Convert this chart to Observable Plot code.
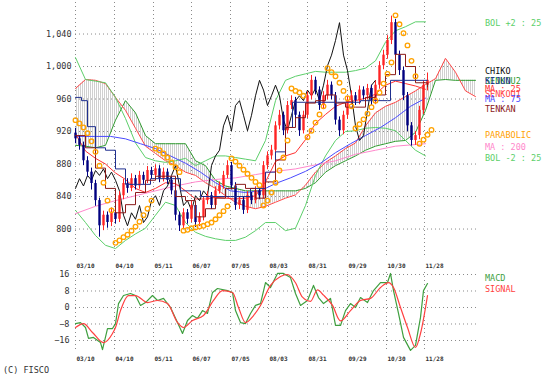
<!DOCTYPE html>
<html><head><meta charset="utf-8">
<script src="https://cdn.jsdelivr.net/npm/d3@7"></script>
<script src="https://cdn.jsdelivr.net/npm/@observablehq/plot@0.6"></script>
<style>
body{margin:0;background:#fff;}
#wrap{position:relative;width:555px;height:386px;overflow:hidden;background:#fff;}
#wrap svg{position:absolute;left:0;}
</style></head><body><div id="wrap"></div>
<script>
// ---------- DATA ----------
const tickDays   = [0, 19.5, 39, 58, 77.5, 96.5, 116, 136, 155.5, 174.5];
const tickLabels = ["03/10","04/10","05/11","06/07","07/05","08/03","08/31","09/29","10/30","11/28"];
const priceTicks = [800, 840, 880, 920, 960, 1000, 1040];
const macdTicks  = [-16, -8, 0, 8, 16];

// candles, one every 2 trading days
const open  = [918,911,903,884,870,856,835,804,817,808,820,812,841,856,850,862,853,866,860,872,866,874,862,870,860,847,817,804,820,812,829,808,815,835,841,829,847,853,866,878,853,829,835,823,841,835,847,841,878,890,897,927,940,921,952,958,940,921,940,964,983,971,952,964,977,964,934,921,940,958,964,958,971,964,973,958,977,1001,1014,1032,1054,1014,995,964,927,909,915,946,977];
const close = [911,903,884,870,856,835,804,817,808,820,812,841,856,850,862,853,866,860,872,866,874,862,870,860,847,817,804,820,812,829,808,815,835,841,829,847,853,866,878,853,829,835,823,841,835,847,841,878,890,897,927,940,921,952,958,940,921,940,964,983,971,952,964,977,964,934,921,940,958,964,958,971,964,973,958,977,1001,1014,1032,1054,1014,995,964,927,909,915,946,977,983];
const high  = [924,915,907,889,875,860,838,822,821,826,825,846,861,862,868,866,871,870,877,876,879,878,875,874,864,851,821,825,824,834,833,820,840,846,845,852,858,871,884,882,857,840,839,846,845,852,851,883,895,903,932,946,944,957,964,962,944,945,969,989,987,975,969,983,981,968,938,945,963,970,968,976,975,978,977,982,1006,1020,1038,1062,1058,1019,999,968,931,920,951,982,992];
const low   = [905,897,878,864,848,828,790,798,801,803,806,808,836,844,846,848,849,855,856,861,861,857,858,855,842,810,797,800,806,808,802,803,810,830,824,825,843,849,862,848,823,824,818,819,830,831,836,837,873,885,893,922,915,917,947,934,914,917,936,959,965,946,947,959,959,928,914,916,935,953,952,953,959,959,952,953,972,996,1009,1027,1008,989,958,920,902,903,910,941,970];

// Ichimoku cloud, every 5 days (incl. 26-day lead)
const cloudDays = [0,5,10,15,20,25,30,35,40,45,50,55,60,65,70,75,80,85,90,95,100,105,110,115,120,125,130,135,140,145,150,155,160,165,170,175,180,185,190,195,200];
const senkou1 = [973,984,983,979,962,946,924,902,893,884,878,870,866,857,850,841,833,828,825,828,833,838,842,854,870,882,890,899,906,927,943,951,956,963,970,978,985,1010,993,970,963];
const senkou2 = [903,902,900,903,934,958,943,915,905,905,905,905,884,878,860,853,850,847,847,847,847,847,847,850,857,870,878,884,890,897,902,905,908,909,919,946,983,984,983,983,983];

// Bollinger (25) and MA 25, every 5 days
const bandDays = [0,5,10,15,20,25,30,35,40,45,50,55,60,65,70,75,80,85,90,95,100,105,110,115,120,125,130,135,140,145,150,155,160,165,170,175];
const bolUpper = [1011,984,982,980,962,936,906,888,884,882,884,887,878,884,890,890,888,886,884,909,958,983,988,991,994,993,993,993,995,998,1007,1030,1044,1049,1055,1055];
const bolLower = [823,808,792,780,776,786,794,801,817,833,829,808,796,791,788,786,786,790,798,808,808,798,801,829,866,890,909,920,921,924,925,924,921,909,897,890];
const ma25     = [917,896,887,880,869,861,850,845,850,857,856,847,837,837,839,838,837,838,841,858,883,890,894,910,930,941,951,956,958,961,966,977,982,979,976,972];

const ma200Days = [0,10,20,30,40,50,60,70,80,90,100,110,120,130,140,150,160,170,175];
const ma200     = [819,828,835,841,847,853,858,861,863,867,871,874,879,884,892,897,902,904,905];

const ma75Days = [0,10,17.5,25,32.5,40,47.5,55,62.5,70,77.5,85,92.5,100,107.5,115,122.5,130,137.5,145,152.5,160,167.5,175];
const ma75     = [914,914,914,911,905,899,890,881,870,857,847,845,847,856,863,871,881,894,905,915,925,937,951,961];

const kijunDays = [0,3,6,10,15,20,25,32.5,37.5,47.5,52.5,62.5,77.5,87.5,95,100,105,108.5,131,142.5,156,157.5,176];
const kijun     = [962,958,926,900,897,874,855,855,862,862,847,840,840,850,870,895,925,956,956,958,958,983,983];

const tenkanDays = [0,5,10,15,20,25,30,35,40,45,50,55,60,65,70,75,80,85,90,95,100,105,110,115,120,125,130,135,140,145,150,155,160,165,170,176];
const tenkan     = [915,900,875,850,820,830,845,860,865,865,840,835,815,825,838,850,855,850,838,858,885,925,937,955,958,965,955,950,950,962,965,990,1015,1000,980,975];

// Parabolic SAR, every 2 days
const sar = [934,930,925,918,908,895,878,857,835,823, 783,786,790,793,798,803,809,817,825,835, 899,897,893,888,882,876,870, 798,799,801,802,803,804,806,808,812,817,822,828, 887,883,878,873,868,863,858,854, 829,835,845,857,872,888,909, 973,970,968,964, 913,921,931,941,951, 998,993,988,980,970,961,951, 924,929,935,942,950,958,968,979,991,1005, 1063,1052,1041,1026,1007,988, 905,910,916,922];

// MACD panel
const macdDays = [0,2.5,5,6.5,9,12.5,13.5,16,18.5,20,21.5,24,27.5,30,32.5,35,38.5,41,44,47.5,51,53.5,56,58.5,61,63.5,66,68.5,71,76,78.5,80,82.5,85,87.5,90,92.5,95,97.5,101,104,107.5,110,112.5,116,119,121.5,124,127.5,130,132.5,135,137.5,140,142.5,146,149,152.5,156,157.5,159,161.5,164,167.5,170,172.5,174,176];
const macd     = [-7.8,-7.3,-9.7,-15,-14.5,-17,-20.4,-10.2,-10.2,-7.8,1.9,5.8,6.8,5.8,1,2.4,5.8,3.4,4.4,0,-7.3,-12.6,-6.3,-3.9,-5.3,-1.5,-2.9,7.3,9.2,8.2,7.3,-1.5,-7.3,-7.8,-2.9,1,1.9,12.1,9.7,16.5,16.5,14.5,6.8,1,3.4,10.7,4.8,1.9,4.4,-8.7,-8.7,-1.5,1.9,0,4.8,2.4,8.2,12.1,12.1,16.5,8.2,-2.9,-14.5,-20.8,-18.4,-4.8,8.2,11.6];
const signalDays = [0,4,8.5,14,18.5,20,22.5,26.5,30,36,41,46,51,54,58.5,64,69,73.5,78.5,81.5,85,89,92.5,97.5,102.5,106,110,113.5,117.5,121,124,128.5,132.5,137.5,142.5,147.5,152.5,156.5,159,162.5,166,170,172.5,176];
const signal     = [-9.7,-7.8,-12.1,-17,-12.6,-9.7,-1.5,5.8,5.8,2.4,3.4,1.9,-7.3,-9.7,-6.3,-3.9,3.4,8.2,7.3,0,-7.3,-3.9,1,10.7,15,16,12,5,3,8.5,6,1,-6.5,-1.5,3.4,4.4,9.7,12.1,9.7,0,-9.7,-19.4,-12.6,5.8];

const legendNames = ["BOL +2 : 25","CHIKO","SENKOU2","KIJUN","MA : 25","SENKOU1","MA : 75","TENKAN","PARABOLIC","MA : 200","BOL -2 : 25","MACD","SIGNAL","(C) FISCO"];

// ---------- BUILD ----------
const FONT = '"DejaVu Sans Mono", monospace';
const C = {
  bol:"#5ccf6a", chiko:"#111", senkou2:"#2f9a2f", kijun:"#1f2f8f", ma25:"#ff3030",
  senkou1:"#ff4848", ma75:"#4a4aff", tenkan:"#8b1a1a", sar:"#ffa200", ma200:"#ff88cc",
  up:"#ff2424", down:"#000080", macd:"#3f9f3f", signal:"#ff4040", text:"#333"
};
const grid = {stroke:"#8a8a8a", strokeDasharray:"1,3", strokeWidth:1};
const labelOf = new Map(tickDays.map((d,i)=>[d,tickLabels[i]]));

const candles = close.map((c,i)=>({d:i*2, o:open[i], c, h:high[i], l:low[i]}));
const cloud = cloudDays.map((d,i)=>({d, s1:senkou1[i], s2:senkou2[i]}));
const bands = bandDays.map((d,i)=>({d, up:bolUpper[i], lo:bolLower[i], ma:ma25[i]}));
const pairs = (xs, ys) => xs.map((d,i)=>({d, v:ys[i]}));
const sarData = sar.map((v,i)=>({d:i*2, v}));
const candleColor = k => k.c >= k.o ? C.up : C.down;

const main = Plot.plot({
  width:555, height:270, marginLeft:75, marginRight:78, marginTop:2, marginBottom:14,
  style:{background:"transparent", fontFamily:FONT},
  x:{domain:[0,201], axis:null},
  y:{domain:[766.2,1078.8], axis:null},
  marks:[
    Plot.ruleY(priceTicks, grid),
    Plot.ruleX(tickDays, grid),
    Plot.areaY(cloud, {x:"d", y1:"s1", y2:"s2", fill:"url(#hatch)"}),
    Plot.line(cloud, {x:"d", y:"s2", stroke:C.senkou2, strokeWidth:1}),
    Plot.line(cloud, {x:"d", y:"s1", stroke:C.senkou1, strokeWidth:1}),
    Plot.line(bands, {x:"d", y:"up", stroke:C.bol, strokeWidth:1}),
    Plot.line(bands, {x:"d", y:"lo", stroke:C.bol, strokeWidth:1}),
    Plot.line(pairs(ma200Days, ma200), {x:"d", y:"v", stroke:C.ma200, strokeWidth:1}),
    Plot.line(pairs(ma75Days, ma75), {x:"d", y:"v", stroke:C.ma75, strokeWidth:1}),
    Plot.line(bands, {x:"d", y:"ma", stroke:C.ma25, strokeWidth:1}),
    Plot.line(candles.filter(k=>k.d>=26), {x:k=>k.d-26, y:"c", stroke:C.chiko, strokeWidth:1}),
    Plot.ruleX(candles, {x:"d", y1:"l", y2:"h", stroke:candleColor, strokeWidth:1}),
    Plot.ruleX(candles, {x:"d", y1:"o", y2:"c", stroke:candleColor, strokeWidth:2.4}),
    Plot.line(pairs(kijunDays, kijun), {x:"d", y:"v", stroke:C.kijun, strokeWidth:1, curve:"step-after"}),
    Plot.line(pairs(tenkanDays, tenkan), {x:"d", y:"v", stroke:C.tenkan, strokeWidth:1, curve:"step-after"}),
    Plot.dot(sarData, {x:"d", y:"v", r:2.3, stroke:C.sar, strokeWidth:1.3, fill:"none"}),
    Plot.axisY(priceTicks, {label:null, tickSize:0, tickPadding:4, tickFormat:d3.format(","), fontSize:8.5, fill:C.text}),
    Plot.axisX(tickDays, {label:null, tickSize:0, tickPadding:7, tickFormat:d=>labelOf.get(d), textAnchor:"start", dx:1, fontSize:6, fontWeight:"bold", fill:C.text})
  ]
});
const defs = d3.select(main).insert("defs", ":first-child");
const pat = defs.append("pattern").attr("id","hatch").attr("patternUnits","userSpaceOnUse").attr("width",2).attr("height",2);
pat.append("rect").attr("width",1).attr("height",2).attr("fill","#d0d0d0");
main.style.top = "0px";

const lower = Plot.plot({
  width:555, height:100, marginLeft:75, marginRight:78, marginTop:10, marginBottom:12,
  style:{background:"transparent", fontFamily:FONT},
  x:{domain:[0,201], axis:null},
  y:{domain:[-20.85,16.97], axis:null},
  marks:[
    Plot.ruleY(macdTicks, grid),
    Plot.ruleX(tickDays, grid),
    Plot.line(pairs(macdDays, macd), {x:"d", y:"v", stroke:C.macd, strokeWidth:1.2}),
    Plot.line(pairs(signalDays, signal), {x:"d", y:"v", stroke:C.signal, strokeWidth:1.2, curve:"monotone-x"}),
    Plot.axisY(macdTicks, {label:null, tickSize:0, tickPadding:6, fontSize:8.5, fill:C.text}),
    Plot.axisX(tickDays, {label:null, tickSize:0, tickPadding:6, tickFormat:d=>labelOf.get(d), textAnchor:"start", dx:1, fontSize:6, fontWeight:"bold", fill:C.text})
  ]
});
lower.style.top = "262px";

const wrap = document.getElementById("wrap");
wrap.appendChild(main);
wrap.appendChild(lower);

// legend overlay (labels stacked as in the original, partly overlapping)
const legendLayout = [
  [485,26,C.bol],[485,74,C.chiko],[485,84,C.senkou2],[485,84,C.kijun],[485,92,C.ma25],
  [485,97,C.senkou1],[485,102,C.ma75],[485,112,C.tenkan],[485,138,C.sar],[485,150,C.ma200],
  [485,161,C.bol],[485,281,C.macd],[485,292,C.signal],[3,373,C.text]
];
const ov = d3.select(wrap).append("svg").attr("width",555).attr("height",386).style("top","0px").style("pointer-events","none");
ov.selectAll("text").data(legendNames).join("text")
  .attr("x",(d,i)=>legendLayout[i][0]).attr("y",(d,i)=>legendLayout[i][1])
  .attr("fill",(d,i)=>legendLayout[i][2])
  .attr("font-family",FONT).attr("font-size",8.5)
  .text(d=>d);
</script></body></html>
